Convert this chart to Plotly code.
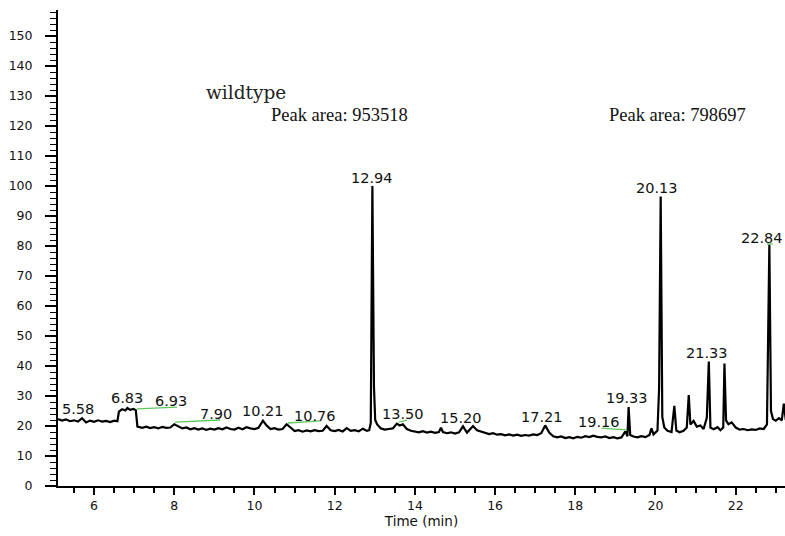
import plotly.graph_objects as go

# Chromatogram trace (time in min, relative abundance)
time_min = [5.10, 5.20, 5.30, 5.40, 5.50, 5.60, 5.70, 5.80, 5.90, 6.00, 6.10, 6.20, 6.30, 6.40, 6.50, 6.58,
            6.62, 6.70, 6.78, 6.83, 6.90, 6.98, 7.04, 7.08, 7.20, 7.30, 7.40, 7.50, 7.60, 7.70, 7.80, 7.90,
            8.00, 8.10, 8.20, 8.30, 8.40, 8.50, 8.60, 8.70, 8.80, 8.90, 9.00, 9.10, 9.20, 9.30, 9.40, 9.50,
            9.60, 9.70, 9.80, 9.90, 10.00, 10.10, 10.21, 10.30, 10.40, 10.50, 10.60, 10.70, 10.80, 10.90,
            11.00, 11.10, 11.20, 11.30, 11.40, 11.50, 11.60, 11.70, 11.80, 11.90, 12.00, 12.10, 12.20, 12.30,
            12.40, 12.50, 12.60, 12.70, 12.80, 12.86, 12.90, 12.94, 12.98, 13.01, 13.06, 13.15, 13.25, 13.35,
            13.45, 13.55, 13.62, 13.70, 13.80, 13.90, 14.00, 14.10, 14.20, 14.30, 14.40, 14.50, 14.60, 14.65,
            14.70, 14.80, 14.90, 15.00, 15.10, 15.20, 15.30, 15.45, 15.55, 15.65, 15.75, 15.85, 15.95, 16.05,
            16.15, 16.25, 16.35, 16.45, 16.55, 16.65, 16.75, 16.85, 16.95, 17.05, 17.15, 17.25, 17.35, 17.45,
            17.55, 17.65, 17.75, 17.85, 17.95, 18.05, 18.15, 18.25, 18.35, 18.45, 18.55, 18.65, 18.75, 18.85,
            18.95, 19.05, 19.15, 19.25, 19.30, 19.33, 19.37, 19.45, 19.55, 19.65, 19.75, 19.85, 19.90, 19.95,
            20.05, 20.09, 20.13, 20.17, 20.22, 20.30, 20.40, 20.47, 20.52, 20.60, 20.70, 20.78, 20.83, 20.87,
            20.95, 21.03, 21.12, 21.20, 21.28, 21.33, 21.37, 21.45, 21.55, 21.62, 21.69, 21.72, 21.76, 21.82,
            21.90, 22.00, 22.10, 22.20, 22.30, 22.40, 22.50, 22.60, 22.70, 22.78, 22.84, 22.88, 22.93, 23.00,
            23.08, 23.15, 23.20, 23.25]
abundance = [22.3, 21.8, 22.2, 21.6, 21.9, 21.5, 22.6, 21.2, 21.8, 21.4, 21.9, 21.5, 21.7, 21.3, 21.8, 21.6,
             24.8, 25.6, 25.2, 26.0, 25.4, 25.7, 25.3, 19.8, 19.4, 19.8, 19.3, 19.6, 19.2, 19.7, 19.4, 19.5,
             20.6, 19.8, 19.2, 19.5, 18.9, 19.3, 18.8, 19.2, 18.7, 19.1, 18.8, 19.3, 18.9, 19.5, 19.0, 18.8,
             19.4, 18.9, 19.6, 19.2, 19.0, 19.4, 21.8, 20.2, 19.0, 19.3, 18.8, 19.0, 20.6, 19.5,
             18.3, 18.6, 18.1, 18.5, 18.2, 18.6, 18.3, 18.4, 20.0, 18.6, 18.3, 18.7, 18.2, 19.3,
             18.4, 18.6, 18.2, 19.1, 18.4, 18.6, 21.0, 100.0, 33.0, 22.0, 20.5, 19.2, 18.8, 19.0,
             19.2, 20.8, 20.2, 20.6, 19.0, 18.4, 18.2, 17.9, 18.3, 17.8, 18.1, 17.7, 18.0, 19.4,
             18.0, 17.6, 17.9, 17.5, 17.9, 19.9, 17.8, 20.0, 18.6, 18.2, 17.6, 17.3, 17.6, 17.1,
             17.3, 16.9, 17.2, 16.8, 17.1, 16.7, 17.0, 16.8, 17.2, 17.0, 17.6, 20.2, 17.8, 16.6,
             16.2, 16.5, 16.0, 16.3, 15.9, 16.4, 16.1, 16.6, 16.3, 16.8, 16.4, 16.2, 16.5, 16.0,
             16.3, 15.9, 16.2, 18.2, 16.6, 26.3, 17.0, 16.5, 16.2, 16.6, 16.3, 17.0, 19.2, 17.2,
             18.5, 32.5, 96.5, 23.0, 19.5, 18.4, 18.0, 26.7, 18.5, 17.9, 18.4, 19.5, 30.3, 20.5,
             21.7, 19.8, 20.2, 19.0, 22.7, 41.5, 19.5, 18.9, 19.6, 18.6, 19.5, 40.8, 21.9, 20.6,
             21.2, 19.5, 18.8, 19.0, 18.6, 18.9, 18.7, 19.2, 19.0, 20.5, 80.5, 25.0, 22.3, 21.8,
             22.6, 21.9, 27.5, 22.0]

# Peak retention-time labels and where they sit
peak_labels = ["5.58", "6.83", "6.93", "7.90", "10.21", "10.76", "12.94", "13.50", "15.20",
               "17.21", "19.16", "19.33", "20.13", "21.33", "22.84"]
label_x = [5.60, 6.83, 7.93, 9.03, 10.20, 11.50, 12.93, 13.70, 15.15,
           17.18, 18.58, 19.28, 20.05, 21.28, 22.65]
label_y = [25.7, 29.3, 28.3, 24.0, 25.0, 23.3, 102.7, 24.0, 22.7,
           23.0, 21.3, 29.3, 99.3, 44.5, 82.7]

# Green integration baselines (x0, x1, y0, y1)
base_x0 = [7.07, 8.02, 10.83, 13.60, 18.65, 22.78]
base_x1 = [8.07, 9.15, 11.65, 13.80, 19.28, 22.92]
base_y0 = [25.7, 21.3, 21.0, 21.3, 19.3, 80.7]
base_y1 = [26.3, 22.0, 21.7, 22.0, 18.7, 80.7]

fig = go.Figure()
fig.add_trace(go.Scatter(x=time_min, y=abundance, mode="lines",
                         line=dict(color="#000000", width=2.2), showlegend=False,
                         hoverinfo="skip"))
for x0, x1, y0, y1 in zip(base_x0, base_x1, base_y0, base_y1):
    fig.add_trace(go.Scatter(x=[x0, x1], y=[y0, y1], mode="lines",
                             line=dict(color="#5cc85c", width=1.3), showlegend=False,
                             hoverinfo="skip"))

for t, lx, ly in zip(peak_labels, label_x, label_y):
    fig.add_annotation(x=lx, y=ly, text=t, showarrow=False, xanchor="center", yanchor="middle",
                       font=dict(family="DejaVu Sans", size=14.5, color="#111111"))

fig.add_annotation(x=9.79, y=131.3, text="wildtype", showarrow=False,
                   font=dict(family="DejaVu Serif", size=18.5, color="#222222"))
fig.add_annotation(x=12.13, y=123.7, text="Peak area: 953518", showarrow=False,
                   font=dict(family="Liberation Serif", size=18.5, color="#111111"))
fig.add_annotation(x=20.54, y=123.7, text="Peak area: 798697", showarrow=False,
                   font=dict(family="Liberation Serif", size=18.5, color="#111111"))

fig.update_layout(
    width=785, height=536,
    margin=dict(l=58, r=0, t=10, b=50),
    plot_bgcolor="white", paper_bgcolor="white",
    font=dict(family="DejaVu Sans", size=12.5, color="#111111"),
)
fig.update_xaxes(
    range=[5.10, 23.23], showgrid=False, zeroline=False,
    showline=True, linecolor="#000000", linewidth=2,
    ticks="outside", ticklen=7, tickwidth=1.5, tickcolor="#000000",
    dtick=2, tick0=0,
    minor=dict(dtick=0.5, tick0=0, ticks="outside", ticklen=5, tickwidth=1.5, tickcolor="#000000"),
    title=dict(text="Time (min)", font=dict(family="DejaVu Sans", size=13.5), standoff=2),
)
fig.update_yaxes(
    range=[0, 158.7], showgrid=False, zeroline=False,
    showline=True, linecolor="#000000", linewidth=2,
    ticks="outside", ticklen=11, tickwidth=1.5, tickcolor="#000000",
    dtick=10, tick0=0, ticklabelstandoff=10,
    minor=dict(dtick=2, tick0=0, ticks="outside", ticklen=6, tickwidth=1.2, tickcolor="#000000"),
)

fig.write_html("out.html")
